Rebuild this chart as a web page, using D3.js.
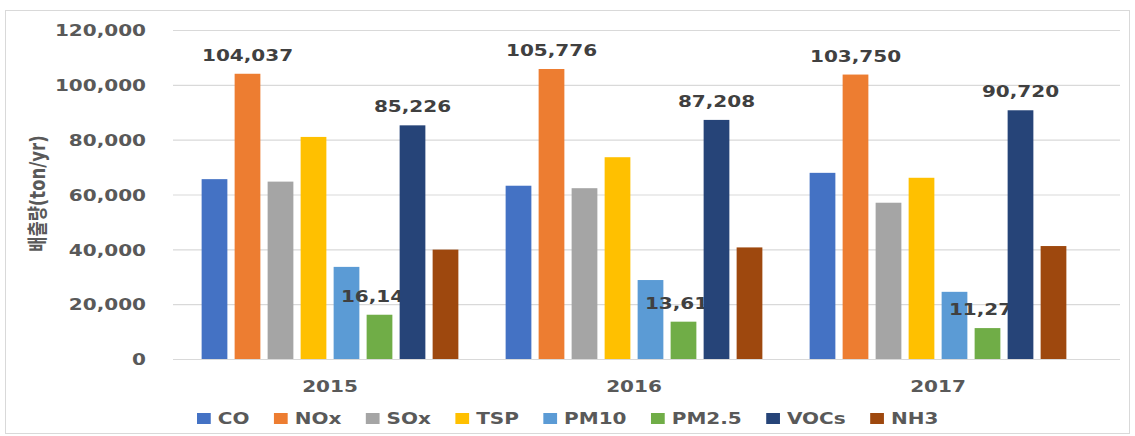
<!DOCTYPE html>
<html>
<head>
<meta charset="utf-8">
<script src="https://cdn.jsdelivr.net/npm/d3@7"></script>
<style>
  body { margin: 0; background: #fff; }
  text { font-family: "DejaVu Sans", "Noto Sans CJK KR", sans-serif; font-weight: bold; }
</style>
</head>
<body>
<svg id="chart" width="1135" height="436"></svg>
<script>
// Annual emissions by pollutant (ton/yr)
const years = ["2015", "2016", "2017"];
const pollutants = ["CO", "NOx", "SOx", "TSP", "PM10", "PM2.5", "VOCs", "NH3"];
const colors = ["#4472C4", "#ED7D31", "#A5A5A5", "#FFC000", "#5B9BD5", "#70AD47", "#264478", "#9E480E"];

const CO   = [65600, 63200, 67900];
const NOx  = [104037, 105776, 103750];
const SOx  = [64700, 62300, 57000];
const TSP  = [81000, 73600, 66100];
const PM10 = [33600, 28800, 24500];
const PM25 = [16145, 13614, 11276];
const VOCs = [85226, 87208, 90720];
const NH3  = [39900, 40700, 41200];

const yTicks = [0, 20000, 40000, 60000, 80000, 100000, 120000];
const labelledSeries = ["NOx", "PM2.5", "VOCs"];
const yTitle = "배출량(ton/yr)";

const seriesValues = [CO, NOx, SOx, TSP, PM10, PM25, VOCs, NH3];
const series = pollutants.map((p, j) => ({
  key: p,
  points: years.map((yr, i) => ({ year: yr, key: p, value: seriesValues[j][i] }))
}));

// Text is drawn slightly wide, as in the original layout
const K = 1.25;

const svg = d3.select("#chart");

// Chart frame
svg.append("rect")
  .attr("x", 5.5).attr("y", 10.5)
  .attr("width", 1124).attr("height", 423)
  .attr("fill", "#fff").attr("stroke", "#D9D9D9").attr("stroke-width", 1);

const plotLeft = 173, plotRight = 1120;
const y = d3.scaleLinear().domain([0, 120000]).range([359, 30]);
const x0 = d3.scaleBand().domain(years).range([178, 1090]).padding(0);
const x1 = d3.scaleBand().domain(pollutants).range([-132, 132]).paddingInner(0.22).paddingOuter(0.11);
const color = d3.scaleOrdinal().domain(pollutants).range(colors);
const fmt = d3.format(",");
const cx = yr => x0(yr) + x0.bandwidth() / 2;

// Gridlines
const grid = svg.append("g").attr("transform", `translate(${plotLeft},0)`)
  .call(d3.axisLeft(y).tickValues(yTicks).tickSize(-(plotRight - plotLeft)).tickFormat(""));
grid.select(".domain").remove();
grid.selectAll("line").attr("stroke", "#D9D9D9").attr("stroke-width", 1.2);

// Y axis labels
const yAxis = svg.append("g").attr("transform", `translate(${plotLeft},0)`)
  .call(d3.axisLeft(y).tickValues(yTicks).tickSize(0).tickPadding(0).tickFormat(fmt));
yAxis.select(".domain").remove();
yAxis.attr("font-family", null).attr("font-size", null);
yAxis.selectAll("text")
  .attr("x", 0).attr("dy", "0.36em")
  .attr("transform", `translate(-27,0) scale(${K},1)`)
  .attr("fill", "#595959")
  .style("font-size", "16px");

// Y title
svg.append("text")
  .attr("transform", `translate(45,193.5) scale(${K},1) rotate(-90)`)
  .attr("text-anchor", "middle")
  .attr("fill", "#595959")
  .style("font-size", "16.5px")
  .text(yTitle);

// Bars and value labels, layered series by series
const sg = svg.append("g").selectAll("g.series")
  .data(series).join("g").attr("class", "series");

sg.selectAll("rect")
  .data(s => s.points)
  .join("rect")
  .attr("x", d => cx(d.year) + x1(d.key))
  .attr("width", x1.bandwidth())
  .attr("y", d => y(d.value))
  .attr("height", d => y(0) - y(d.value))
  .attr("fill", d => color(d.key));

sg.filter(s => labelledSeries.includes(s.key))
  .selectAll("text.val")
  .data(s => s.points)
  .join("text")
  .attr("class", "val")
  .attr("text-anchor", "middle")
  .attr("transform", d => `translate(${cx(d.year) + x1(d.key) + x1.bandwidth() / 2},${y(d.value) - 13}) scale(${K},1)`)
  .attr("fill", "#404040")
  .style("font-size", "16px")
  .text(d => fmt(d.value));

// X axis labels
const xAxis = svg.append("g").attr("transform", "translate(0,359)")
  .call(d3.axisBottom(x0).tickSize(0).tickPadding(0));
xAxis.select(".domain").remove();
xAxis.attr("font-family", null).attr("font-size", null);
xAxis.selectAll("text")
  .attr("y", 0).attr("dy", null)
  .attr("transform", `translate(0,33) scale(${K},1)`)
  .attr("fill", "#595959")
  .style("font-size", "16px");

// Legend
const legend = svg.append("g");
let lx = 197;
pollutants.forEach(p => {
  legend.append("rect")
    .attr("x", lx).attr("y", 413)
    .attr("width", 11 * K).attr("height", 11)
    .attr("fill", color(p));
  const t = legend.append("text")
    .attr("transform", `translate(${lx + 11 * K + 7},424) scale(${K},1)`)
    .attr("fill", "#595959")
    .style("font-size", "16px")
    .text(p);
  lx += 11 * K + 7 + t.node().getComputedTextLength() * K + 24.5;
});
</script>
</body>
</html>
